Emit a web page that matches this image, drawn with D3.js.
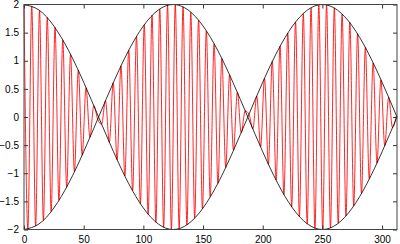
<!DOCTYPE html>
<html lang="en">
  <head>
    <meta charset="utf-8">
    <title>Beats</title>
    <script src="https://d3js.org/d3.v7.min.js"></script>
    <style>
      body { margin: 0; background: #fff; }
    </style>
  </head>
  <body>
    <script>
      // carrier peaks/troughs
      var sigX = [0,3.25,6.5,9.75,13,16.25,19.5,22.75,26,29.25,32.5,35.75,39,42.25,45.5,48.75,52,55.25,58.5,61.75,
        65,68.25,71.5,74.75,78,81.25,84.5,87.75,91,94.25,97.5,100.75,104,107.25,110.5,113.75,117,120.25,123.5,126.75,
        130,133.25,136.5,139.75,143,146.25,149.5,152.75,156,159.25,162.5,165.75,169,172.25,175.5,178.75,182,185.25,188.5,191.75,
        195,198.25,201.5,204.75,208,211.25,214.5,217.75,221,224.25,227.5,230.75,234,237.25,240.5,243.75,247,250.25,253.5,256.75,
        260,263.25,266.5,269.75,273,276.25,279.5,282.75,286,289.25,292.5,295.75,299,302.25,305.5,308.75,312];
      var sigY = [2.00,-1.99,1.97,-1.94,1.89,-1.84,1.77,-1.68,1.59,-1.48,1.37,-1.25,1.11,-0.97,0.83,-0.68,0.52,-0.36,0.20,-0.04,
        -0.13,0.29,-0.45,0.61,-0.76,0.91,-1.05,1.19,-1.31,1.43,-1.54,1.64,-1.73,1.81,-1.87,1.92,-1.96,1.99,-2.00,2.00,
        -1.98,1.96,-1.92,1.86,-1.80,1.72,-1.63,1.53,-1.42,1.30,-1.18,1.04,-0.90,0.75,-0.59,0.44,-0.28,0.11,0.05,-0.21,
        0.37,-0.53,0.69,-0.84,0.99,-1.12,1.26,-1.38,1.49,-1.60,1.69,-1.77,1.84,-1.90,1.94,-1.98,1.99,-2.00,1.99,-1.97,
        1.94,-1.89,1.83,-1.76,1.68,-1.58,1.48,-1.36,1.24,-1.10,0.96,-0.82,0.66,-0.51,0.35,-0.19,0.03];

      // envelope curves
      var envX = [0,12.5,25,37.5,50,62.5,75,87.5,100,112.5,125,137.5,150,162.5,175,187.5,200,212.5,225,237.5,250,262.5,275,287.5,300,312.5];
      var envUp = [2,1.902,1.618,1.176,0.618,0,-0.618,-1.176,-1.618,-1.902,-2,-1.902,-1.618,-1.176,-0.618,0,0.618,1.176,1.618,1.902,2,1.902,1.618,1.176,0.618,0];
      var envDown = [-2,-1.902,-1.618,-1.176,-0.618,0,0.618,1.176,1.618,1.902,2,1.902,1.618,1.176,0.618,0,-0.618,-1.176,-1.618,-1.902,-2,-1.902,-1.618,-1.176,-0.618,0];

      var xTicks = [0,50,100,150,200,250,300];
      var yTicks = [-2,-1.5,-1,-0.5,0,0.5,1,1.5,2];

      var width = 400;
      var height = 244;
      var margin = {top: 4.5, left: 24, right: 3, bottom: 14.5};

      var svg = d3.select("body")
        .append("svg")
        .attr("width",width)
        .attr("height",height);

      var x = d3.scaleLinear()
        .domain([0,312.5])
        .range([margin.left, width-margin.right]);

      var y = d3.scaleLinear()
        .domain([-2,2])
        .range([height-margin.bottom, margin.top]);

      var fmt = function(d) { return d < 0 ? "\u2212" + Math.abs(d) : "" + d; };

      // signal, rounded through the peaks
      var sig = sigX.map(function(d,i) { return [d, sigY[i]]; });
      svg.append("path")
        .datum(sig)
        .attr("fill","none")
        .attr("stroke","#ff0000")
        .attr("stroke-width",0.85)
        .attr("d", d3.line().curve(d3.curveMonotoneX)
          .x(function(d) { return x(d[0]); })
          .y(function(d) { return y(d[1]); }));

      // envelopes
      [envUp, envDown].forEach(function(arr) {
        svg.append("path")
          .datum(envX.map(function(d,i) { return [d, arr[i]]; }))
          .attr("fill","none")
          .attr("stroke","#000")
          .attr("stroke-width",0.8)
          .attr("d", d3.line().curve(d3.curveNatural)
            .x(function(d) { return x(d[0]); })
            .y(function(d) { return y(d[1]); }));
      });

      // axes, ticks inward and mirrored
      svg.append("g")
        .attr("transform",`translate(0,${height-margin.bottom})`)
        .call(d3.axisBottom(x).tickValues(xTicks).tickSize(-4).tickPadding(6).tickFormat(fmt))
        .call(function(g) { g.select(".domain").remove(); });
      svg.append("g")
        .attr("transform",`translate(0,${margin.top})`)
        .call(d3.axisTop(x).tickValues(xTicks).tickSize(-4).tickFormat(""))
        .call(function(g) { g.select(".domain").remove(); });
      svg.append("g")
        .attr("transform",`translate(${margin.left},0)`)
        .call(d3.axisLeft(y).tickValues(yTicks).tickSize(-4).tickPadding(5).tickFormat(fmt))
        .call(function(g) { g.select(".domain").remove(); });
      svg.append("g")
        .attr("transform",`translate(${width-margin.right},0)`)
        .call(d3.axisRight(y).tickValues(yTicks).tickSize(-4).tickFormat(""))
        .call(function(g) { g.select(".domain").remove(); });

      svg.selectAll(".tick line").attr("stroke","#333");
      svg.selectAll(".tick text").attr("font-size",10).attr("font-family","Liberation Sans, Arial, sans-serif").attr("fill","#000");

      svg.append("rect")
        .attr("x",margin.left)
        .attr("y",margin.top)
        .attr("width",width-margin.left-margin.right)
        .attr("height",height-margin.top-margin.bottom)
        .attr("fill","none")
        .attr("stroke","#444")
        .attr("stroke-width",1);
    </script>
  </body>
</html>
